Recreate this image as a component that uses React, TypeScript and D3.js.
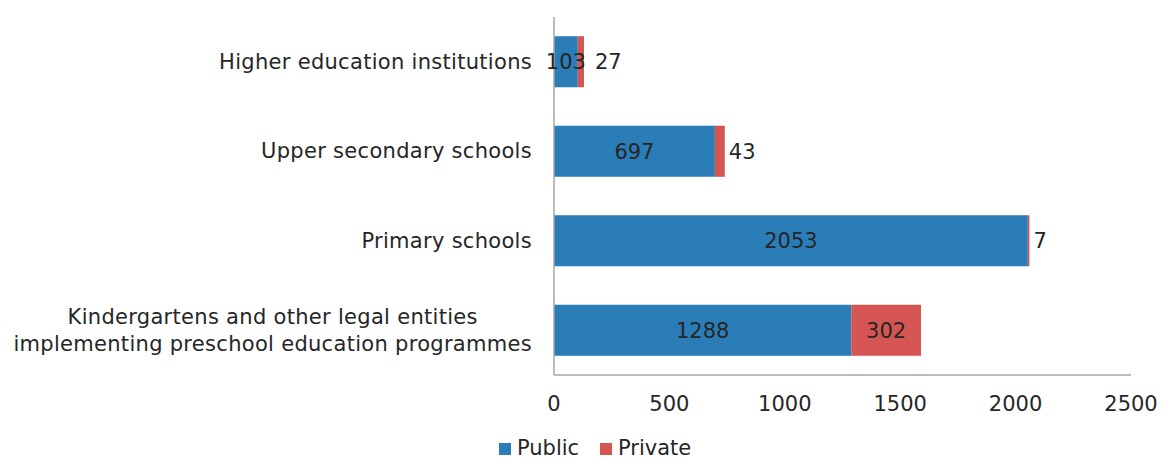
import { useRef, useEffect } from 'react';
import * as d3 from 'd3';

const categories = [
  ['Higher education institutions'],
  ['Upper secondary schools'],
  ['Primary schools'],
  ['Kindergartens and other legal entities', 'implementing preschool education programmes'],
];
const publicValues = [103, 697, 2053, 1288];
const privateValues = [27, 43, 7, 302];
const xTicks = [0, 500, 1000, 1500, 2000, 2500];
const seriesNames = ['Public', 'Private'];

const W = 1162;
const H = 461;
const margin = { top: 17, right: 31, bottom: 86, left: 554 };
const colors = ['#2a7db6', '#d45552'];
const textColor = '#262626';
const font = '"DejaVu Sans", Verdana, sans-serif';
const fs = '21px';

function App() {
  const svgRef = useRef<SVGSVGElement>(null);

  useEffect(() => {
    document.body.style.margin = '0';
    const svg = d3.select(svgRef.current);
    svg.selectAll('*').remove();

    const x = d3.scaleLinear().domain([0, 2500]).range([margin.left, W - margin.right]);
    const y = d3
      .scaleBand<number>()
      .domain(d3.range(categories.length))
      .range([margin.top, H - margin.bottom])
      .paddingInner(0.43)
      .paddingOuter(0.215);

    const g = svg.append('g').style('font-family', font).attr('fill', textColor);

    // bars
    categories.forEach((_, i) => {
      const pub = publicValues[i];
      const pri = privateValues[i];
      g.append('rect')
        .attr('x', x(0))
        .attr('y', y(i)!)
        .attr('width', x(pub) - x(0))
        .attr('height', y.bandwidth())
        .attr('fill', colors[0]);
      g.append('rect')
        .attr('x', x(pub))
        .attr('y', y(i)!)
        .attr('width', x(pub + pri) - x(pub))
        .attr('height', y.bandwidth())
        .attr('fill', colors[1]);
    });

    // axes
    const axisColor = '#a6a6a6';
    g.append('line')
      .attr('x1', x(0)).attr('x2', x(0))
      .attr('y1', margin.top).attr('y2', H - margin.bottom)
      .attr('stroke', axisColor).attr('stroke-width', 1.5);
    g.append('line')
      .attr('x1', x(0)).attr('x2', x(2500))
      .attr('y1', H - margin.bottom).attr('y2', H - margin.bottom)
      .attr('stroke', axisColor).attr('stroke-width', 1.5);

    g.selectAll('.xtick')
      .data(xTicks)
      .enter()
      .append('text')
      .attr('class', 'xtick')
      .attr('x', (d) => x(d))
      .attr('y', 411)
      .attr('text-anchor', 'middle')
      .style('font-size', fs)
      .text((d) => d);

    // category labels
    categories.forEach((lines, i) => {
      const cy = y(i)! + y.bandwidth() / 2;
      const lh = 27;
      const t = g.append('text')
        .style('font-size', fs)
        .style('letter-spacing', '0.3px')
        .attr('text-anchor', 'middle');
      const spans = lines.map((l, k) =>
        t.append('tspan')
          .attr('y', cy + (k - (lines.length - 1) / 2) * lh)
          .attr('dy', '0.33em')
          .text(l)
      );
      const maxW = d3.max(spans, (s) => (s.node() as SVGTSpanElement).getComputedTextLength()) || 0;
      spans.forEach((s) => s.attr('x', 532 - maxW / 2));
    });

    // value labels
    categories.forEach((_, i) => {
      const pub = publicValues[i];
      const pri = privateValues[i];
      const cy = y(i)! + y.bandwidth() / 2;
      const pubLabel = g.append('text')
        .attr('x', (x(0) + x(pub)) / 2)
        .attr('y', cy)
        .attr('dy', '0.35em')
        .attr('text-anchor', 'middle')
        .style('font-size', fs)
        .text(pub);
      const pubRight = (x(0) + x(pub)) / 2 + (pubLabel.node() as SVGTextElement).getComputedTextLength() / 2;
      const segW = x(pub + pri) - x(pub);
      if (segW > 60) {
        g.append('text')
          .attr('x', (x(pub) + x(pub + pri)) / 2)
          .attr('y', cy)
          .attr('dy', '0.35em')
          .attr('text-anchor', 'middle')
          .style('font-size', fs)
          .text(pri);
      } else {
        g.append('text')
          .attr('x', Math.max(x(pub + pri) + 4, pubRight + 9))
          .attr('y', cy)
          .attr('dy', '0.35em')
          .attr('text-anchor', 'start')
          .style('font-size', fs)
          .text(pri);
      }
    });

    // legend
    const legendX = [499, 600];
    seriesNames.forEach((name, k) => {
      g.append('rect')
        .attr('x', legendX[k])
        .attr('y', 443)
        .attr('width', 12)
        .attr('height', 12)
        .attr('fill', colors[k]);
      g.append('text')
        .attr('x', legendX[k] + 18)
        .attr('y', 455)
        .style('font-size', fs)
        .text(name);
    });
  }, []);

  return <svg ref={svgRef} width={W} height={H} style={{ display: 'block' }} />;
}

export default App;
